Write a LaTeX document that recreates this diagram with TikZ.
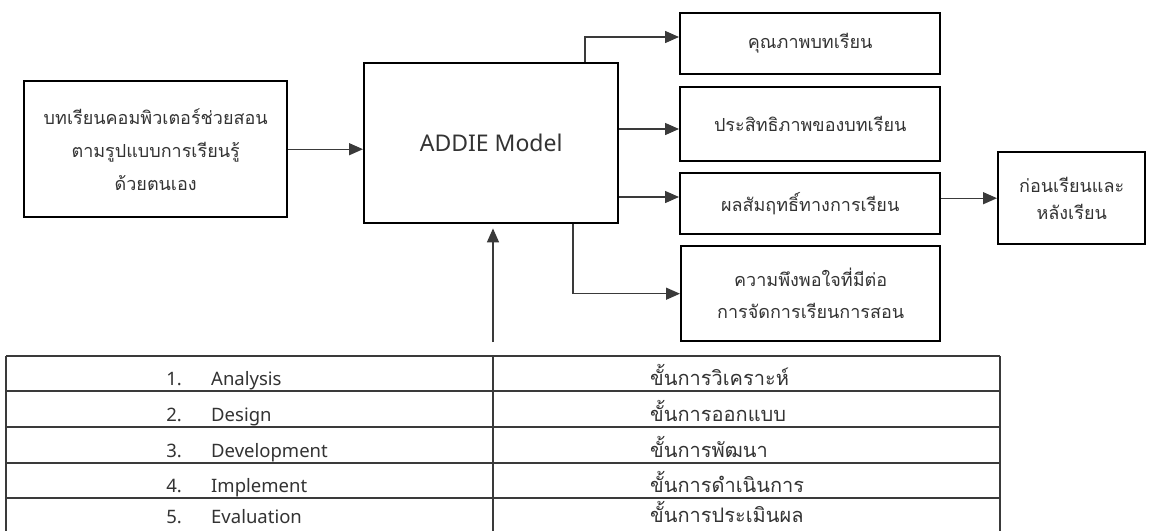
\documentclass[tikz,border=0pt]{standalone}
\usepackage{fontspec}
\setmainfont{Noto Sans}
\newfontfamily\thaifont[Script=Thai]{Loma}
\usetikzlibrary{arrows.meta}
\definecolor{txt}{HTML}{333333}
\definecolor{ln}{HTML}{3A3A3A}
\begin{document}
\begin{tikzpicture}[x=1pt,y=-1pt,
  box/.style={draw=black, line width=2.4pt, inner sep=0pt, align=center, text=txt,
    anchor=north west, font=\thaifont\fontsize{18}{33}\selectfont},
  conn/.style={draw=ln, line width=1.4pt, -{Triangle[length=14pt,width=12pt]}},
  tline/.style={draw=ln, line width=1.4pt},
  tnum/.style={inner sep=0pt, text=txt, font=\fontsize{18.5}{20}\selectfont, anchor=base east, text depth=0pt},
  tlab/.style={inner sep=0pt, text=txt, font=\fontsize{18.5}{20}\selectfont, anchor=base west, text depth=0pt},
  tthai/.style={inner sep=0pt, text=txt, font=\thaifont\fontsize{20}{22}\selectfont, anchor=base west, text depth=0pt},
]
\useasboundingbox (0,0) rectangle (1153,530);
\fill[white] (0,0) rectangle (1153,530);

% boxes
\node[box, minimum width=263pt, minimum height=136pt] (src) at (23,80)
  {บทเรียนคอมพิวเตอร์ช่วยสอน\\ตามรูปแบบการเรียนรู้\\ด้วยตนเอง};
\node[box, minimum width=254pt, minimum height=160pt,
  font=\fontsize{23}{26}\selectfont] (addie) at (363,62) {ADDIE Model};
\node[box, minimum width=260pt, minimum height=61pt] (q1) at (679,12) {คุณภาพบทเรียน};
\node[box, minimum width=260pt, minimum height=74pt] (q2) at (679,86) {ประสิทธิภาพของบทเรียน};
\node[box, minimum width=260pt, minimum height=61pt] (q3) at (679,172) {ผลสัมฤทธิ์ทางการเรียน};
\node[box, minimum width=259pt, minimum height=95pt,
  font=\thaifont\fontsize{18}{32}\selectfont] (q4) at (680,245)
  {ความพึงพอใจที่มีต่อ\\การจัดการเรียนการสอน};
\node[box, minimum width=147pt, minimum height=92pt,
  font=\thaifont\fontsize{18}{27}\selectfont] (rb) at (997,151)
  {ก่อนเรียนและ\\หลังเรียน};

% connectors
\coordinate (t1) at (585,37);
\coordinate (y2) at (0,129);
\coordinate (y3) at (0,197);
\coordinate (b4) at (573,0);
\coordinate (b0) at (493,342);
\draw[conn] (addie.north -| t1) -- (t1) -- (q1.west |- t1);
\draw[conn] (addie.east |- y2) -- (q2.west |- y2);
\draw[conn] (addie.east |- y3) -- (q3.west |- y3);
\draw[conn] (addie.south -| b4) |- (q4.west);
\draw[conn] (q3.east |- rb.west) -- (rb.west);
\draw[conn] (src.east) -- (addie.west |- src.east);
\draw[conn, shorten >=4pt] (b0) -- (b0 |- addie.south);

% table
\foreach \yy in {356,391,427,463,498} \draw[tline] (6,\yy) -- (1000,\yy);
\draw[tline] (6,356) -- (6,531);
\draw[tline] (493,356) -- (493,531);
\draw[tline] (1000,356) -- (1000,531);

\node[tnum] (n1) at (182,385) {1.};
\node[tlab] (l1) at (211,385) {Analysis};
\node[tthai] (h1) at (650,385) {ขั้นการวิเคราะห์};
\node[tnum] (n2) at (182,421) {2.};
\node[tlab] (l2) at (211,421) {Design};
\node[tthai] (h2) at (650,421) {ขั้นการออกแบบ};
\node[tnum] (n3) at (182,457) {3.};
\node[tlab] (l3) at (211,457) {Development};
\node[tthai] (h3) at (650,457) {ขั้นการพัฒนา};
\node[tnum] (n4) at (182,492) {4.};
\node[tlab] (l4) at (211,492) {Implement};
\node[tthai] (h4) at (650,492) {ขั้นการดำเนินการ};
\node[tnum] (n5) at (182,523) {5.};
\node[tlab] (l5) at (211,523) {Evaluation};
\node[tthai] (h5) at (650,522) {ขั้นการประเมินผล};
\end{tikzpicture}
\end{document}
